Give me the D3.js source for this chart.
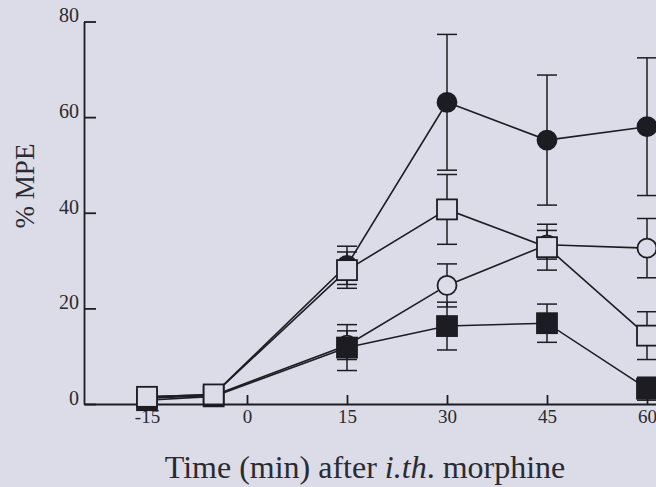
<!DOCTYPE html>
<html>
<head>
<meta charset="utf-8">
<script src="https://cdn.jsdelivr.net/npm/d3@7"></script>
<style>
  body { margin: 0; background: #dcdce8; }
  svg { display: block; }
  .axis text { font-family: "Liberation Serif", "DejaVu Serif", serif; fill: #2a2a30; }
  .title { font-family: "Liberation Serif", "DejaVu Serif", serif; fill: #2a2a30; }
</style>
</head>
<body>
<div id="vis"></div>
<script>
// data
const TIMES = [-15, -5, 15, 30, 45, 60];
const X_TICKS = [-15, 0, 15, 30, 45, 60];
const Y_TICKS = [0, 20, 40, 60, 80];

const FILLED_CIRCLE = [1.5, 2.0, 29.0, 63.1, 55.2, 58.0];
const FILLED_CIRCLE_ERR = [1.5, 1.5, 4.0, 14.2, 13.6, 14.4];
const OPEN_SQUARE = [1.5, 2.0, 28.0, 40.7, 32.8, 14.3];
const OPEN_SQUARE_ERR = [1.5, 1.5, 3.8, 7.3, 4.8, 5.0];
const OPEN_CIRCLE = [1.2, 1.8, 12.3, 24.8, 33.3, 32.6];
const OPEN_CIRCLE_ERR = [1.2, 1.5, 3.0, 4.5, 3.0, 6.2];
const FILLED_SQUARE = [0.8, 1.6, 11.8, 16.3, 16.9, 3.2];
const FILLED_SQUARE_ERR = [1.5, 1.5, 4.8, 5.0, 4.0, 2.4];

const FRAME_WIDTH = 656;
const FRAME_HEIGHT = 487;
const INK = "#1c1c22";
const PAPER = "#dcdce8";

const FRAME = d3.select("#vis")
  .append("svg")
    .attr("width", FRAME_WIDTH)
    .attr("height", FRAME_HEIGHT);

FRAME.append("rect")
  .attr("width", FRAME_WIDTH)
  .attr("height", FRAME_HEIGHT)
  .attr("fill", PAPER);

// scales
const X_SCALE = d3.scaleLinear()
  .domain([-24.45, 61.35])
  .range([84, 656]);

const Y_SCALE = d3.scaleLinear()
  .domain([0, 80])
  .range([404, 21.5]);

// y axis, ticks pointing inward
const yAxis = FRAME.append("g")
  .attr("class", "axis")
  .attr("transform", "translate(" + X_SCALE.range()[0] + ",0)")
  .call(d3.axisLeft(Y_SCALE).tickValues(Y_TICKS).tickSize(-12).tickSizeOuter(0).tickPadding(5));
yAxis.selectAll("text").attr("font-size", "20px").attr("dy", "0.02em");

// x axis (plain hyphen for the negative label, as printed)
const xAxis = FRAME.append("g")
  .attr("class", "axis")
  .attr("transform", "translate(0," + Y_SCALE(0) + ")")
  .call(d3.axisBottom(X_SCALE).tickValues(X_TICKS).tickSize(-9).tickSizeOuter(0).tickPadding(6)
    .tickFormat((d) => String(d)));
xAxis.selectAll("text").attr("font-size", "19px");

FRAME.selectAll(".axis path, .axis line")
  .attr("stroke", INK)
  .attr("stroke-width", 1.8);

// series, in drawing order (later ones sit on top)
const SERIES = [
  { values: FILLED_CIRCLE, err: FILLED_CIRCLE_ERR, shape: "circle", filled: true },
  { values: OPEN_CIRCLE, err: OPEN_CIRCLE_ERR, shape: "circle", filled: false },
  { values: FILLED_SQUARE, err: FILLED_SQUARE_ERR, shape: "square", filled: true },
  { values: OPEN_SQUARE, err: OPEN_SQUARE_ERR, shape: "square", filled: false }
];

const line = d3.line()
  .x((d) => X_SCALE(d.t))
  .y((d) => Y_SCALE(d.v));

function rows(s) {
  return TIMES.map((t, i) => ({ t: t, v: s.values[i], e: s.err[i] }));
}

// error bars
SERIES.forEach((s) => {
  const g = FRAME.append("g")
    .attr("stroke", INK)
    .attr("stroke-width", 1.5);
  rows(s).forEach((d) => {
    const x = X_SCALE(d.t);
    const y1 = Y_SCALE(d.v + d.e);
    const y0 = Y_SCALE(d.v - d.e);
    g.append("line").attr("x1", x).attr("x2", x).attr("y1", y1).attr("y2", y0);
    g.append("line").attr("x1", x - 10).attr("x2", x + 10).attr("y1", y1).attr("y2", y1);
    g.append("line").attr("x1", x - 10).attr("x2", x + 10).attr("y1", y0).attr("y2", y0);
  });
});

// connecting lines
SERIES.forEach((s) => {
  FRAME.append("path")
    .datum(rows(s))
    .attr("d", line)
    .attr("fill", "none")
    .attr("stroke", INK)
    .attr("stroke-width", 1.6);
});

// markers
SERIES.forEach((s) => {
  const sel = FRAME.selectAll(null)
    .data(rows(s))
    .enter();
  let m;
  if (s.shape === "circle") {
    m = sel.append("circle")
      .attr("cx", (d) => X_SCALE(d.t))
      .attr("cy", (d) => Y_SCALE(d.v))
      .attr("r", 9.5);
  } else {
    m = sel.append("rect")
      .attr("x", (d) => X_SCALE(d.t) - 10)
      .attr("y", (d) => Y_SCALE(d.v) - 10)
      .attr("width", 20)
      .attr("height", 20);
  }
  m.attr("fill", s.filled ? INK : PAPER)
   .attr("stroke", INK)
   .attr("stroke-width", 1.8);
});

// axis titles
FRAME.append("text")
  .attr("class", "title")
  .attr("transform", "translate(34,186) rotate(-90)")
  .attr("text-anchor", "middle")
  .attr("font-size", "27px")
  .text("% MPE");

const xt = FRAME.append("text")
  .attr("class", "title")
  .attr("x", 365)
  .attr("y", 478)
  .attr("text-anchor", "middle")
  .attr("font-size", "32px");
xt.append("tspan").text("Time (min) after ");
xt.append("tspan").attr("font-style", "italic").text("i.th");
xt.append("tspan").text(". morphine");
</script>
</body>
</html>
